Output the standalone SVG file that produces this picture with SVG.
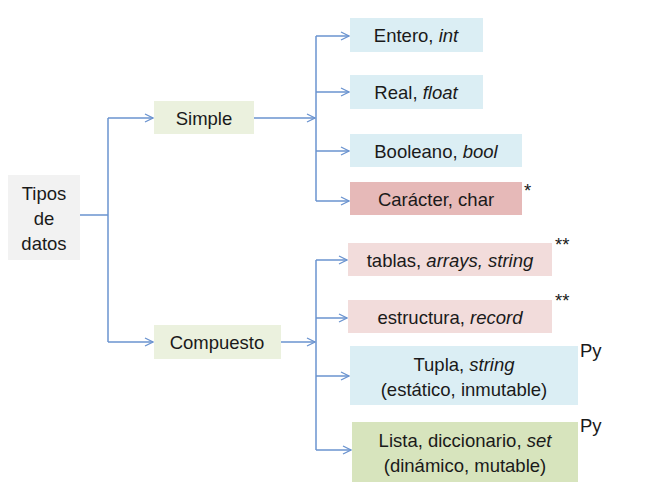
<svg xmlns="http://www.w3.org/2000/svg" width="645" height="500" viewBox="0 0 645 500">
<style>
text{font-family:"Liberation Sans",Arial,sans-serif;font-size:18.5px;fill:#1a1a1a;text-anchor:middle;dominant-baseline:central}
.i{font-style:italic}
.n{text-anchor:start}
.c{fill:none;stroke:#6a93cf;stroke-width:1.5}
</style>
<defs>
<marker id="a" viewBox="0 0 10 10" refX="9" refY="5" markerWidth="10" markerHeight="10" markerUnits="userSpaceOnUse" orient="auto">
<path d="M1,1 L9,5 L1,9" fill="none" stroke="#6a93cf" stroke-width="1.3"/>
</marker>
</defs>
<rect width="645" height="500" fill="#fff"/>
<g id="connectors" class="c">
<path d="M80,215 H108"/>
<path d="M108,118 V342"/>
<path d="M108,118 H153" marker-end="url(#a)"/>
<path d="M108,342 H153" marker-end="url(#a)"/>
<path d="M254,118 H315" marker-end="url(#a)"/>
<path d="M281,342 H315" marker-end="url(#a)"/>
<path d="M316,36 V201"/>
<path d="M316,36 H349" marker-end="url(#a)"/>
<path d="M316,92 H349" marker-end="url(#a)"/>
<path d="M316,151 H349" marker-end="url(#a)"/>
<path d="M316,201 H349" marker-end="url(#a)"/>
<path d="M316,260 V450"/>
<path d="M316,260 H347" marker-end="url(#a)"/>
<path d="M316,318 H347" marker-end="url(#a)"/>
<path d="M316,376 H349" marker-end="url(#a)"/>
<path d="M316,450 H351" marker-end="url(#a)"/>
</g>
<g id="tipos">
<rect x="8" y="175" width="72" height="85" fill="#f2f2f2"/>
<text x="44" y="193">Tipos</text>
<text x="44" y="218">de</text>
<text x="44" y="243">datos</text>
</g>
<g id="simple">
<rect x="154" y="101" width="100" height="33" fill="#ebf1de"/>
<text x="204" y="118">Simple</text>
</g>
<g id="compuesto">
<rect x="154" y="325" width="127" height="34" fill="#ebf1de"/>
<text x="217" y="342">Compuesto</text>
</g>
<g id="entero">
<rect x="350" y="18" width="133" height="34" fill="#dbeef4"/>
<text x="416" y="35">Entero, <tspan class="i">int</tspan></text>
</g>
<g id="real">
<rect x="350" y="75" width="133" height="34" fill="#dbeef4"/>
<text x="416" y="92">Real, <tspan class="i">float</tspan></text>
</g>
<g id="booleano">
<rect x="350" y="134" width="172" height="33" fill="#dbeef4"/>
<text x="436" y="151">Booleano, <tspan class="i">bool</tspan></text>
</g>
<g id="caracter">
<rect x="350" y="182" width="172" height="33" fill="#e6b9b8"/>
<text x="436" y="199">Carácter, char</text>
<text class="n" x="524" y="190">*</text>
</g>
<g id="tablas">
<rect x="348" y="243" width="204" height="33" fill="#f2dcdb"/>
<text x="450" y="260">tablas, <tspan class="i">arrays, string</tspan></text>
<text class="n" x="555" y="244">**</text>
</g>
<g id="estructura">
<rect x="348" y="300" width="204" height="33" fill="#f2dcdb"/>
<text x="450" y="317">estructura, <tspan class="i">record</tspan></text>
<text class="n" x="555" y="300">**</text>
</g>
<g id="tupla">
<rect x="350" y="346" width="228" height="59" fill="#dbeef4"/>
<text x="464" y="364">Tupla, <tspan class="i">string</tspan></text>
<text x="464" y="389">(estático, inmutable)</text>
<text class="n" x="580" y="350">Py</text>
</g>
<g id="lista">
<rect x="352" y="422" width="226" height="60" fill="#d7e4bd"/>
<text x="465" y="440">Lista, diccionario, <tspan class="i">set</tspan></text>
<text x="465" y="465">(dinámico, mutable)</text>
<text class="n" x="580" y="425">Py</text>
</g>
</svg>
